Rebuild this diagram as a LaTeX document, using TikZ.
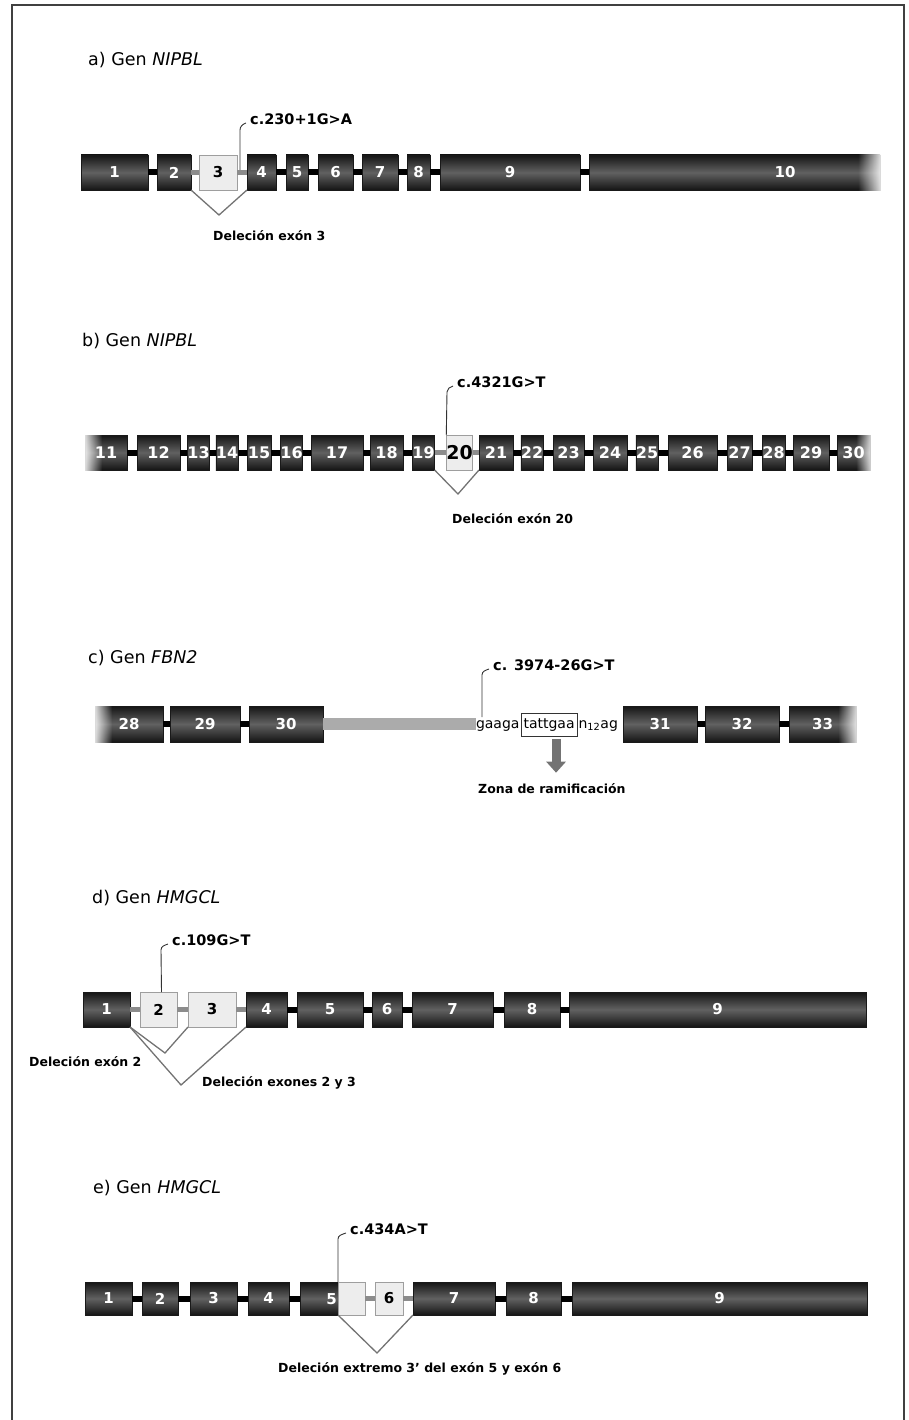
\documentclass[tikz,border=0pt]{standalone}
\usepackage{fontspec}
\setmainfont{DejaVu Sans}
\usetikzlibrary{calc,fadings,arrows.meta}
\newcommand\fs[1]{\fontsize{#1}{#1}\selectfont}
\tikzset{
  exon/.style={inner sep=0pt, outer sep=0pt, draw=black!90, line width=0.5pt,
     top color=black!92, bottom color=black!92, middle color=black!62,
     text=white, font=\fs{15}\bfseries},
  bexon/.style={exon, font=\fs{16}\bfseries},
  delexon/.style={inner sep=0pt, outer sep=0pt, draw=black!38, line width=0.8pt,
     fill=black!7, text=black, font=\fs{15}\bfseries},
  intron/.style={line width=6pt, black},
  gintron/.style={line width=5pt, black!45},
  title/.style={anchor=west, font=\fs{17.5}, inner sep=0pt},
  mutlabel/.style={anchor=west, font=\fs{14.5}\bfseries, inner sep=0pt},
  dellabel/.style={anchor=west, font=\fs{12.5}\bfseries, inner sep=0pt},
  seq/.style={font=\fs{14}, inner sep=0pt, outer sep=0pt},
  mutline/.style={black!80, line width=0.9pt},
  delline/.style={black!55, line width=1.3pt, line join=miter},
  garrow/.style={-{Triangle[width=19pt,length=11pt]}, line width=9pt, black!55},
  frame/.style={black!75, line width=1.2pt},
}
% #1 style, #2 name, #3 x1, #4 x2, #5 y1, #6 y2, #7 label
\newcommand\ex[7][exon]{\node[#1, minimum width={(#4-#3)*1pt}, minimum height={(#6-#5)*1pt}] (#2) at ({(#3+#4)/2},{(#5+#6)/2}) {#7};}
\begin{document}
\begin{tikzpicture}[x=1pt,y=-1pt]
\useasboundingbox (0,0) rectangle (908,1420);
\draw[frame] (12,1420) -- (12,5) -- (904,5) -- (904,1420);

% ---------------- a)
\node[title] (ta) at (88,60) {a) Gen \textit{NIPBL}};
\ex{a1}{81}{148}{155}{190}{1}
\ex{a2}{157}{191}{155}{190}{2}
\ex[delexon]{a3}{199}{237}{155}{190}{3}
\ex{a4}{247}{276}{155}{190}{4}
\ex{a5}{286}{308}{155}{190}{5}
\ex{a6}{318}{353}{155}{190}{6}
\ex{a7}{362}{398}{155}{190}{7}
\ex{a8}{407}{430}{155}{190}{8}
\ex{a9}{440}{580}{155}{190}{9}
\ex{a10}{589}{880}{155}{190}{}
\node[text=white, font=\fs{15}\bfseries] (a10l) at (785,172.5) {10};
\fill[white, path fading=west] (858,152) rectangle (884,193);
\draw[intron] (a1.east) -- (a2.west);
\draw[gintron] (a2.east) -- (a3.west);
\draw[gintron] (a3.east) -- (a4.west);
\draw[intron] (a4.east) -- (a5.west);
\draw[intron] (a5.east) -- (a6.west);
\draw[intron] (a6.east) -- (a7.west);
\draw[intron] (a7.east) -- (a8.west);
\draw[intron] (a8.east) -- (a9.west);
\draw[intron] (a9.east) -- (a10.west);
\node[mutlabel] (ma) at (250,119) {c.230+1G>A};
\draw[mutline] (240,170) -- (240,130) to[out=90,in=200] ($(ma.west)+(-4,4)$);
\draw[delline] (a2.south east) -- (219,215) -- (a4.south west);
\node[dellabel] (da) at (213,236) {Deleción exón 3};

% ---------------- b)
\node[title] (tb) at (82,341) {b) Gen \textit{NIPBL}};
\ex[bexon]{b11}{85}{127}{435}{470}{11}
\ex[bexon]{b12}{137}{180}{435}{470}{12}
\ex[bexon]{b13}{189}{208}{435}{470}{13}
\ex[bexon]{b14}{216}{238}{435}{470}{14}
\ex[bexon]{b15}{247}{271}{435}{470}{15}
\ex[bexon]{b16}{281}{302}{435}{470}{16}
\ex[bexon]{b17}{311}{363}{435}{470}{17}
\ex[bexon]{b18}{370}{403}{435}{470}{18}
\ex[bexon]{b19}{415}{432}{435}{470}{19}
\ex[delexon, font=\fs{19}\bfseries]{b20}{447}{472}{435}{470}{20}
\ex[bexon]{b21}{479}{513}{435}{470}{21}
\ex[bexon]{b22}{522}{542}{435}{470}{22}
\ex[bexon]{b23}{553}{584}{435}{470}{23}
\ex[bexon]{b24}{593}{627}{435}{470}{24}
\ex[bexon]{b25}{636}{658}{435}{470}{25}
\ex[bexon]{b26}{668}{717}{435}{470}{26}
\ex[bexon]{b27}{727}{752}{435}{470}{27}
\ex[bexon]{b28}{762}{785}{435}{470}{28}
\ex[bexon]{b29}{793}{829}{435}{470}{29}
\ex[bexon]{b30}{837}{870}{435}{470}{30}
\fill[white, path fading=east] (82,432) rectangle (102,473);
\fill[white, path fading=west] (856,432) rectangle (874,473);
\foreach \p/\q in {b11/b12,b12/b13,b13/b14,b14/b15,b15/b16,b16/b17,b17/b18,b18/b19,
  b21/b22,b22/b23,b23/b24,b24/b25,b25/b26,b26/b27,b27/b28,b28/b29,b29/b30}
  \draw[intron] (\p.east) -- (\q.west);
\draw[gintron] (b19.east) -- (b20.west);
\draw[gintron] (b20.east) -- (b21.west);
\node[mutlabel] (mb) at (457,382) {c.4321G>T};
\draw[mutline] (b20.north west) -- (447,392) to[out=90,in=200] ($(mb.west)+(-4,4)$);
\draw[delline] (b19.south east) -- (458,494) -- (b21.south west);
\node[dellabel] (db) at (452,519) {Deleción exón 20};

% ---------------- c)
\node[title] (tc) at (88,658) {c) Gen \textit{FBN2}};
\ex{c28}{95}{163}{706}{742}{28}
\ex{c29}{170}{240}{706}{742}{29}
\ex{c30}{249}{323}{706}{742}{30}
\fill[white, path fading=east] (92,703) rectangle (112,745);
\draw[intron] (c28.east) -- (c29.west);
\draw[intron] (c29.east) -- (c30.west);
\node[seq, anchor=base west] (g1) at (476,728) {gaaga};
\node[seq, draw=black!80, line width=0.7pt, inner xsep=2.5pt, minimum height=23pt, anchor=base west]
  (tbx) at ($(g1.base east)+(1.5,0)$) {tattgaa};
\node[seq, anchor=base west] (n12) at ($(tbx.base east)+(1.5,0)$) {n\textsubscript{12}ag};
\draw[line width=12pt, black!33] (c30.east) -- (c30.east -| g1.west);
\ex{c31}{623}{697}{706}{742}{31}
\ex{c32}{705}{779}{706}{742}{32}
\ex{c33}{789}{856}{706}{742}{33}
\fill[white, path fading=west] (838,703) rectangle (860,745);
\draw[intron] (c31.east) -- (c32.west);
\draw[intron] (c32.east) -- (c33.west);
\coordinate (mcs) at (482,717);
\node[mutlabel] (mc) at (493,665) {c. 3974-26G>T};
\draw[mutline] (mcs) -- (482,675) to[out=90,in=200] ($(mc.west)+(-4,4)$);
\node[dellabel] (zona) at (478,789) {Zona de ramificación};
\draw[garrow, shorten >=11pt] ([xshift=7pt,yshift=-3pt]tbx.south) -- ([xshift=7pt]tbx.south |- zona.north);

% ---------------- d)
\node[title] (td) at (92,898) {d) Gen \textit{HMGCL}};
\ex{d1}{83}{130}{992}{1027}{1}
\ex[delexon]{d2}{140}{177}{992}{1027}{2}
\ex[delexon]{d3}{188}{236}{992}{1027}{3}
\ex{d4}{246}{287}{992}{1027}{4}
\ex{d5}{297}{363}{992}{1027}{5}
\ex{d6}{372}{402}{992}{1027}{6}
\ex{d7}{412}{493}{992}{1027}{7}
\ex{d8}{504}{560}{992}{1027}{8}
\ex{d9}{569}{866}{992}{1027}{9}
\draw[gintron] (d1.east) -- (d2.west);
\draw[gintron] (d2.east) -- (d3.west);
\draw[gintron] (d3.east) -- (d4.west);
\foreach \p/\q in {d4/d5,d5/d6,d6/d7,d7/d8,d8/d9}
  \draw[intron] (\p.east) -- (\q.west);
\node[mutlabel] (md) at (172,940) {c.109G>T};
\draw[mutline] (d2.north) ++(3,0) -- (161,950) to[out=90,in=200] ($(md.west)+(-4,4)$);
\draw[delline] (d1.south east) -- (165,1053) -- (d3.south west);
\draw[delline] (d1.south east) -- (181,1085) -- (d4.south west);
\node[dellabel] (dd1) at (29,1062) {Deleción exón 2};
\node[dellabel] (dd2) at (202,1083) {Deleción exones 2 y 3};

% ---------------- e)
\node[title] (te) at (93,1188) {e) Gen \textit{HMGCL}};
\ex{e1}{85}{132}{1282}{1315}{1}
\ex{e2}{142}{178}{1282}{1315}{2}
\ex{e3}{190}{237}{1282}{1315}{3}
\ex{e4}{248}{289}{1282}{1315}{4}
\ex{e5}{300}{338}{1282}{1315}{}
\node[text=white, font=\fs{15}\bfseries, anchor=east, inner sep=0pt] (e5l) at ($(e5.east)+(-1,0.5)$) {5};
\ex[delexon]{e5b}{338}{365}{1282}{1315}{}
\ex[delexon]{e6}{375}{403}{1282}{1315}{6}
\ex{e7}{413}{495}{1282}{1315}{7}
\ex{e8}{506}{561}{1282}{1315}{8}
\ex{e9}{572}{867}{1282}{1315}{9}
\foreach \p/\q in {e1/e2,e2/e3,e3/e4,e4/e5,e7/e8,e8/e9}
  \draw[intron] (\p.east) -- (\q.west);
\draw[gintron] (e5b.east) -- (e6.west);
\draw[gintron] (e6.east) -- (e7.west);
\node[mutlabel] (me) at (350,1229) {c.434A>T};
\draw[mutline] (e5.north east) -- (338,1239) to[out=90,in=200] ($(me.west)+(-4,4)$);
\draw[delline] (e5.south east) -- (377,1353) -- (e7.south west);
\node[dellabel] (de) at (278,1369) {Deleción extremo 3’ del exón 5 y exón 6};
\end{tikzpicture}
\end{document}
